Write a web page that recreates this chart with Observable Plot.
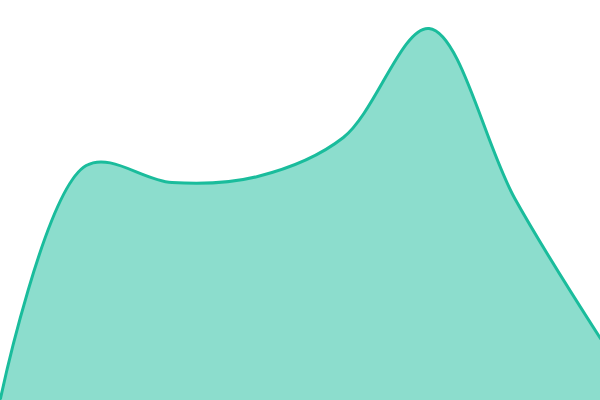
<!DOCTYPE html>
<html><head><meta charset="utf-8">
<script src="https://cdn.jsdelivr.net/npm/d3@7"></script>
<script src="https://cdn.jsdelivr.net/npm/@observablehq/plot@0.6"></script>
<style>html,body{margin:0;padding:0;background:#fff;overflow:hidden}</style>
</head><body><div id="chart"></div>
<script>
const idx = [0, 1, 2, 3, 4, 5, 6, 7];
const values = [2, 235, 218, 224, 263, 372, 202, 62];
const data = idx.map((i, k) => ({i, v: values[k]}));
const chart = Plot.plot({
  width: 600, height: 400,
  margin: 0,
  x: {domain: [0, 7], axis: null},
  y: {domain: [0, 400], axis: null},
  marks: [
    Plot.areaY(data, {x: "i", y: "v", curve: "catmull-rom", fill: "#1abc9c", fillOpacity: 0.5}),
    Plot.lineY(data, {x: "i", y: "v", curve: "catmull-rom", stroke: "#1abc9c", strokeWidth: 3})
  ]
});
document.getElementById("chart").appendChild(chart);
</script></body></html>
